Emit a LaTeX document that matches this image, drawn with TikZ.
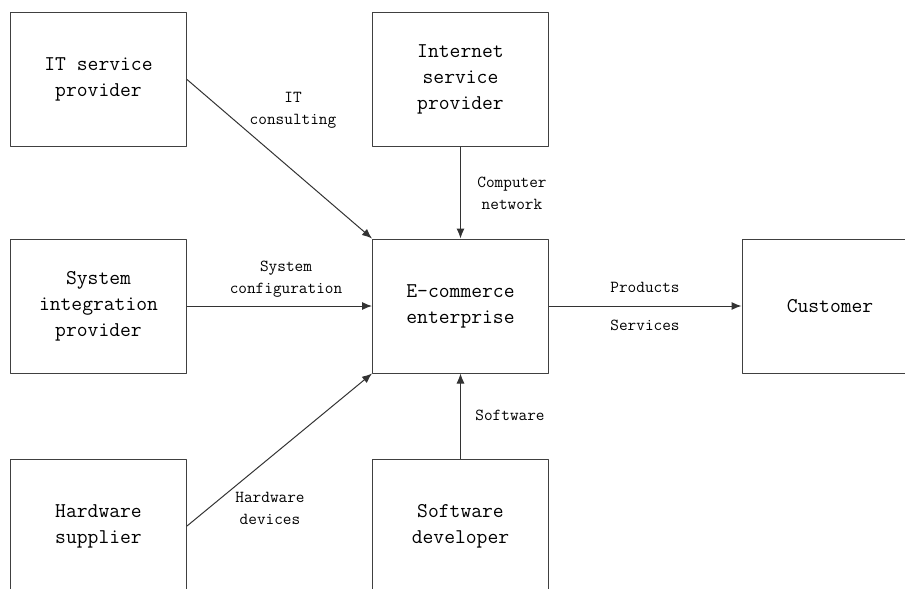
\documentclass[tikz,border=0pt]{standalone}
\usepackage{tikz}
\usetikzlibrary{arrows.meta}
\begin{document}
\begin{tikzpicture}[x=0.75pt,y=-0.75pt,line join=round,>={Latex[length=7.5pt,width=6pt]},
	box/.style={draw=black!75,line width=0.75pt,minimum width=132pt,minimum height=100.5pt,align=center,
		font=\fontsize{15.75}{19.5}\selectfont\ttfamily},
	lbl/.style={align=center,font=\fontsize{12.6}{16.5}\selectfont\ttfamily},
	link/.style={->,draw=black!80,line width=0.75pt}]
	\useasboundingbox (0,0) rectangle (905,588);
	\clip (0,0) rectangle (905,588);
	% boxes
	\node[box] (it) at (98.5,79.5) {IT service\\provider};
	\node[box] (isp) at (460.5,79.5) {Internet\\service\\provider};
	\node[box] (sys) at (98.5,306) {System\\integration\\provider};
	\node[box] (ec) at (460.5,306) {E-commerce\\enterprise};
	\node[box] (cus) at (830,306) {Customer};
	\node[box] (hw) at (98.5,526) {Hardware\\supplier};
	\node[box] (sw) at (460.5,526) {Software\\developer};
	% links
	\draw[link] (it.east) -- (ec.north west);
	\draw[link] (isp) -- (ec);
	\draw[link] (sys) -- (ec);
	\draw[link] (hw.east) -- (ec.south west);
	\draw[link] (sw) -- (ec);
	\draw[link] (ec) -- (cus);
	% labels
	\node[lbl] (itc) at (293,110) {IT\\consulting};
	\node[lbl] (net) at (512,193) {Computer\\network};
	\node[lbl] (cfg) at (286,279) {System\\configuration};
	\node[lbl] (prd) at (645,287) {Products};
	\node[lbl] (srv) at (645,325) {Services};
	\node[lbl] (dev) at (270,508) {Hardware\\devices};
	\node[lbl] (swl) at (510,415) {Software};
\end{tikzpicture}
\end{document}
